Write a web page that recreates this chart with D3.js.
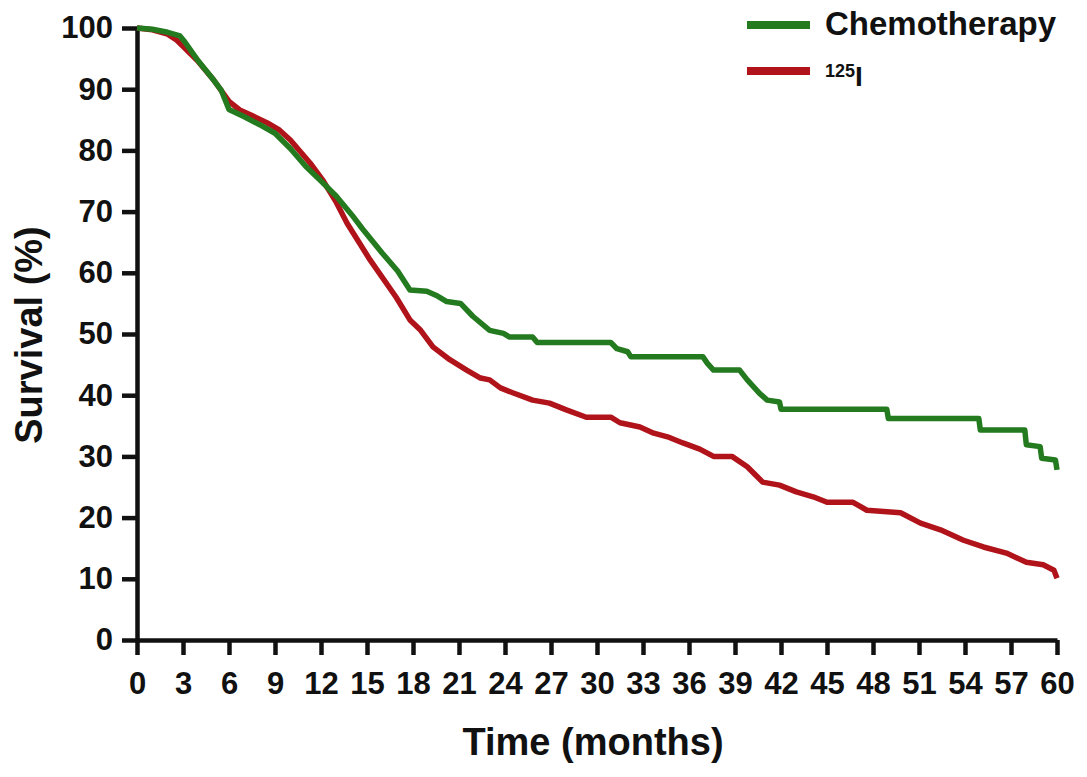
<!DOCTYPE html>
<html>
<head>
<meta charset="utf-8">
<script src="https://cdn.jsdelivr.net/npm/d3@7"></script>
<style>
  body { margin: 0; background: #fff; }
  text { font-family: "Liberation Sans", Arial, sans-serif; font-weight: bold; fill: #111; }
</style>
</head>
<body>
<svg id="chart" width="1087" height="777"></svg>
<script>
// Tiempos (meses) y supervivencia (%)
const chemoTime = [0, 1, 2, 2.8, 3.1, 4, 5, 5.5, 6, 7, 8, 9, 10, 11, 12, 13, 14, 14.7, 16, 17, 17.8, 18.9, 19.6, 20.2, 21.1, 21.9, 23.0, 23.9, 24.3, 25.8, 26.1, 30.9, 31.3, 32.0, 32.2, 36.9, 37.2, 37.6, 39.3, 39.8, 40.6, 41.1, 41.9, 42.0, 48.9, 49.0, 54.9, 55.0, 57.9, 58.0, 58.9, 59.0, 59.9, 60];
const chemoSurv = [100, 99.8, 99.3, 98.7, 97.8, 94.6, 91.5, 89.8, 86.7, 85.5, 84.2, 82.8, 80.3, 77.4, 75.0, 72.5, 69.5, 67.2, 63.2, 60.3, 57.2, 57.0, 56.2, 55.3, 55.0, 52.9, 50.6, 50.1, 49.5, 49.5, 48.6, 48.6, 47.6, 47.1, 46.3, 46.3, 45.2, 44.1, 44.1, 42.5, 40.3, 39.2, 38.9, 37.7, 37.7, 36.2, 36.2, 34.3, 34.3, 31.9, 31.6, 29.7, 29.4, 27.8];

const iodTime = [0, 1, 2, 2.6, 3, 4, 5, 6, 6.7, 7.5, 8.5, 9.3, 10, 11.3, 12.1, 13, 13.7, 15.2, 16.9, 17.8, 18.5, 19.3, 20.4, 21.5, 22.4, 23.0, 23.7, 24.5, 25.8, 26.9, 28.0, 29.3, 30.9, 31.5, 32.8, 33.7, 34.6, 35.6, 36.7, 37.6, 38.8, 39.8, 40.8, 41.9, 43.0, 44.1, 45.0, 46.7, 47.6, 49.8, 51.1, 52.4, 53.9, 55.2, 56.7, 58.0, 59.1, 59.8, 60];
const iodSurv = [100, 99.7, 99.0, 98.0, 97.0, 94.5, 91.5, 88.0, 86.6, 85.7, 84.5, 83.3, 81.7, 77.9, 75.2, 71.5, 68.1, 62.1, 56.0, 52.3, 50.6, 47.9, 45.8, 44.1, 42.8, 42.5, 41.2, 40.4, 39.2, 38.7, 37.6, 36.4, 36.4, 35.5, 34.8, 33.8, 33.2, 32.2, 31.2, 30.0, 30.0, 28.3, 25.8, 25.3, 24.2, 23.4, 22.5, 22.5, 21.2, 20.8, 19.1, 18.0, 16.3, 15.2, 14.2, 12.7, 12.3, 11.4, 10.1];

const xTicks = d3.range(0, 61, 3);
const yTicks = d3.range(0, 101, 10);

const colorChemo = "#237a1f";
const colorIod = "#b0141a";

const svg = d3.select("#chart");

// Escalas
const x = d3.scaleLinear().domain([0, 60]).range([137, 1057]);
const y = d3.scaleLinear().domain([0, 100]).range([640, 28]);

// Eje Y
const yAxis = svg.append("g")
	.attr("transform", "translate(137,0)")
	.call(d3.axisLeft(y).tickValues(yTicks).tickSize(15).tickPadding(9).tickSizeOuter(0));
yAxis.select(".domain").attr("stroke", "#111").attr("stroke-width", 4.5);
yAxis.selectAll(".tick line").attr("stroke", "#111").attr("stroke-width", 4.5);
yAxis.selectAll(".tick text").attr("font-size", "31px").attr("font-family", null).attr("fill", "#111");

// Eje X
const xAxis = svg.append("g")
	.attr("transform", "translate(0,640)")
	.call(d3.axisBottom(x).tickValues(xTicks).tickSize(15).tickPadding(17).tickSizeOuter(0));
xAxis.select(".domain").attr("stroke", "#111").attr("stroke-width", 4.5);
xAxis.selectAll(".tick line").attr("stroke", "#111").attr("stroke-width", 4.5);
xAxis.selectAll(".tick text").attr("font-size", "31px").attr("font-family", null).attr("fill", "#111");

// Títulos de los ejes
svg.append("text")
	.attr("x", 593).attr("y", 755)
	.attr("text-anchor", "middle")
	.attr("font-size", "38px")
	.text("Time (months)");

svg.append("text")
	.attr("transform", "translate(42,335) rotate(-90)")
	.attr("text-anchor", "middle")
	.attr("font-size", "38px")
	.text("Survival (%)");

// Curvas de supervivencia
const line = d3.line().x(d => x(d[0])).y(d => y(d[1]));

svg.append("path")
	.datum(iodTime.map((t, i) => [t, iodSurv[i]]))
	.attr("fill", "none")
	.attr("stroke", colorIod)
	.attr("stroke-width", 5.5)
	.attr("stroke-linejoin", "round")
	.attr("d", line);

svg.append("path")
	.datum(chemoTime.map((t, i) => [t, chemoSurv[i]]))
	.attr("fill", "none")
	.attr("stroke", colorChemo)
	.attr("stroke-width", 5.5)
	.attr("stroke-linejoin", "round")
	.attr("d", line);

// Leyenda
const legend = svg.append("g");
legend.append("line")
	.attr("x1", 747).attr("x2", 810).attr("y1", 25).attr("y2", 25)
	.attr("stroke", colorChemo).attr("stroke-width", 8);
legend.append("text")
	.attr("x", 825).attr("y", 35)
	.attr("font-size", "33px")
	.text("Chemotherapy");

legend.append("line")
	.attr("x1", 747).attr("x2", 810).attr("y1", 71).attr("y2", 71)
	.attr("stroke", colorIod).attr("stroke-width", 8);
const iodLabel = legend.append("text")
	.attr("x", 825).attr("y", 86);
iodLabel.append("tspan")
	.attr("font-size", "18px")
	.attr("dy", "-9")
	.text("125");
iodLabel.append("tspan")
	.attr("font-size", "28px")
	.attr("dy", "9")
	.text("I");
</script>
</body>
</html>
